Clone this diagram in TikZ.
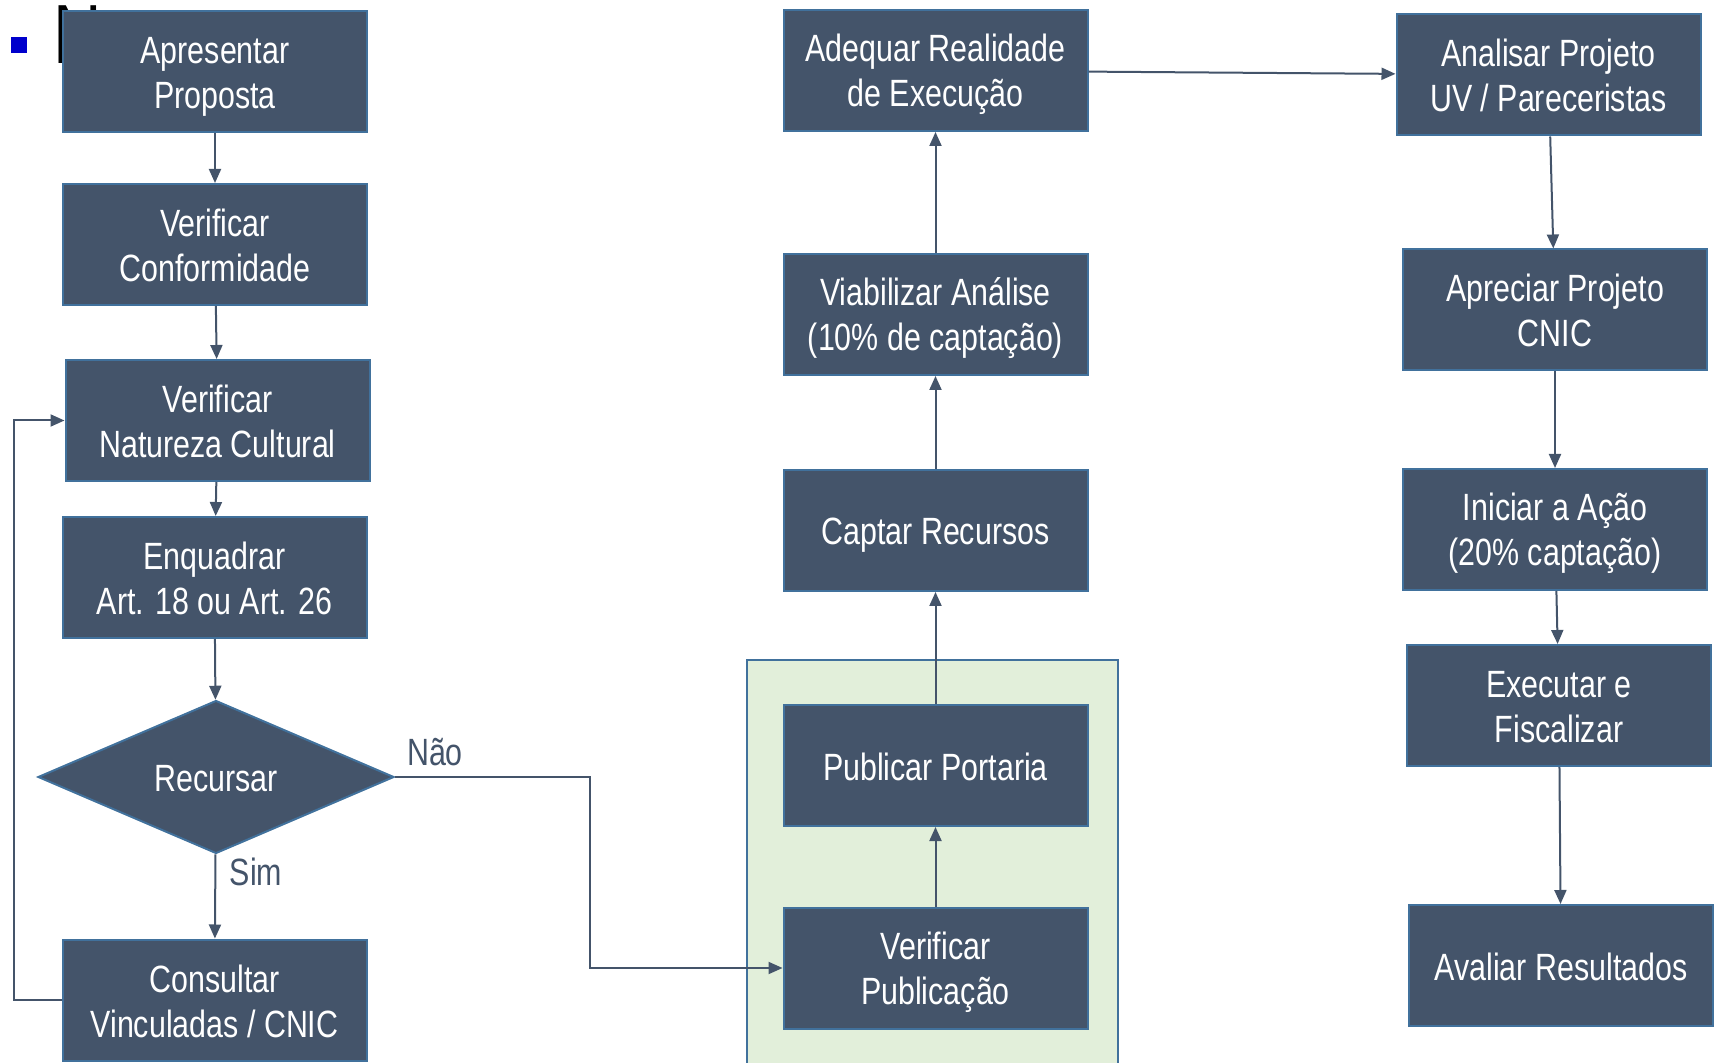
\documentclass[tikz,border=0pt]{standalone}
\usepackage{fontspec}
\setmainfont[FakeStretch=0.8]{Liberation Sans}
\usetikzlibrary{shapes.geometric,arrows.meta}

\definecolor{boxfill}{HTML}{44546A}
\definecolor{boxline}{HTML}{41719C}
\definecolor{linecol}{HTML}{44546A}
\definecolor{areafill}{HTML}{E2EFDA}
\definecolor{bulletblue}{HTML}{0000CC}

% strut that sets the first line of every box
\newcommand{\boxstrut}{\rule{0pt}{18pt}}

\tikzset{
  boxtext/.style={font=\fontsize{19}{22.5}\selectfont,
    execute at end node={\rule[-3.5pt]{0pt}{3.5pt}}},
  procbox/.style={boxtext, draw=boxline, line width=1pt, fill=boxfill, text=white,
    minimum width=152pt, minimum height=60.5pt, inner sep=0pt, align=center},
  decbox/.style={boxtext, diamond, draw=boxline, line width=1pt, fill=boxfill, text=white,
    minimum width=178pt, minimum height=76.5pt, inner sep=0pt, aspect=2.33},
  flowarrow/.style={draw=linecol, line width=1pt, -{Triangle[length=7pt,width=6pt]}},
  flowlabel/.style={text=linecol, inner sep=0pt, font=\fontsize{19}{22.5}\selectfont}
}

\begin{document}
\begin{tikzpicture}[x=0.5pt,y=-0.5pt]
\useasboundingbox (0,0) rectangle (1714,1063);

% Slide bullet and title letter (hidden behind the first box)
\fill [bulletblue] (11,37) rectangle (27,53);
\node (title) [anchor=north west, inner sep=0pt, font=\fontsize{42}{42}\selectfont] at (53,5) {N};

% Green area round the publication steps
\draw [draw=boxline, line width=1pt, fill=areafill] (747,1063) |- (1118,660) -- (1118,1063);

% Left column
\node (apresentar) [procbox] at (215,72) {\boxstrut Apresentar\\Proposta};
\node (conformidade) [procbox] at (215,244.5) {\boxstrut Verificar\\Conformidade};
\node (natureza) [procbox] at (217.5,420.5) {\boxstrut Verificar\\Natureza Cultural};
\node (enquadrar) [procbox] at (214.5,577.5) {\boxstrut Enquadrar\\Art. 18 ou Art. 26};
\node (recursar) [decbox] at (216,777) {\boxstrut Recursar};
\node (consultar) [procbox] at (214.5,1000) {\boxstrut Consultar\\Vinculadas / CNIC};

% Middle column
\node (adequar) [procbox] at (935.5,70.5) {\boxstrut Adequar Realidade\\de Execução};
\node (viabilizar) [procbox] at (935.5,314.5) {\boxstrut Viabilizar Análise\\(10\% de captação)};
\node (captar) [procbox] at (935.5,530.5) {\boxstrut Captar Recursos};
\node (portaria) [procbox] at (935.5,765.5) {\boxstrut Publicar Portaria};
\node (publicacao) [procbox] at (935.5,968) {\boxstrut Verificar\\Publicação};

% Right column
\node (analisar) [procbox] at (1548.5,75) {\boxstrut Analisar Projeto\\UV / Pareceristas};
\node (apreciar) [procbox] at (1555,310) {\boxstrut Apreciar Projeto\\CNIC};
\node (iniciar) [procbox] at (1555,529.5) {\boxstrut Iniciar a Ação\\(20\% captação)};
\node (executar) [procbox] at (1559,705.5) {\boxstrut Executar e\\Fiscalizar};
\node (avaliar) [procbox] at (1561,965.5) {\boxstrut Avaliar Resultados};

% Drawing arrows of the left column
\draw [flowarrow] (apresentar) -- (conformidade);
\draw [flowarrow] (conformidade) -- (natureza);
\draw [flowarrow] (natureza) -- (enquadrar);
\draw [flowarrow] (enquadrar) -- (recursar);
\draw [flowarrow] (recursar) -- (consultar);
\draw [flowarrow] (consultar.west) -- ++(-48,0) |- (natureza.west);
\draw [flowarrow] (recursar.east) -- ++(195,0) |- (publicacao.west);

% Labels of the decision
\node (nao) [flowlabel] at (435,752) {Não};
\node (sim) [flowlabel] at (256,872) {Sim};

% Drawing arrows of the middle column
\draw [flowarrow] (publicacao) -- (portaria);
\draw [flowarrow] (portaria) -- (captar);
\draw [flowarrow] (captar) -- (viabilizar);
\draw [flowarrow] (viabilizar) -- (adequar);
\draw [flowarrow] (adequar) -- (analisar);

% Drawing arrows of the right column
\draw [flowarrow] (analisar) -- (apreciar);
\draw [flowarrow] (apreciar) -- (iniciar);
\draw [flowarrow] (iniciar) -- (executar);
\draw [flowarrow] (executar) -- (avaliar);
\end{tikzpicture}
\end{document}
